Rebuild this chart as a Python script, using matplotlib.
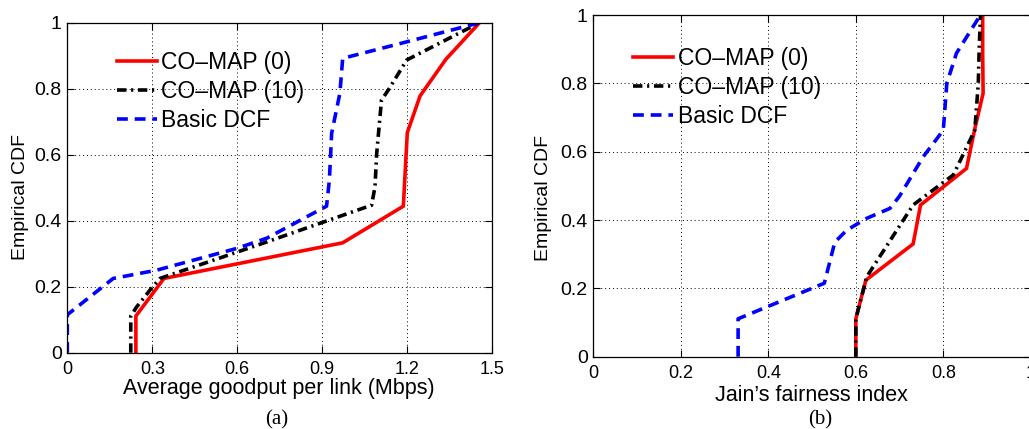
import matplotlib
matplotlib.use("Agg")
import matplotlib.pyplot as plt

# ---- data (a): average goodput per link ----
red_a_x = [0.242, 0.242, 0.341, 0.972, 1.186, 1.200, 1.245, 1.336, 1.455]
red_a_y = [0.0, 0.111, 0.225, 0.333, 0.444, 0.667, 0.778, 0.889, 1.0]

black_a_x = [0.224, 0.224, 0.245, 0.292, 0.327, 0.695, 1.074, 1.086, 1.092, 1.109, 1.133, 1.198, 1.455]
black_a_y = [0.0, 0.111, 0.139, 0.190, 0.225, 0.333, 0.447, 0.503, 0.604, 0.766, 0.796, 0.887, 1.0]

blue_a_x = [0.0, 0.0, 0.162, 0.315, 0.598, 0.704, 0.915, 0.925, 0.933, 0.962, 0.972, 1.198, 1.455]
blue_a_y = [0.0, 0.115, 0.225, 0.250, 0.316, 0.347, 0.444, 0.523, 0.665, 0.786, 0.892, 0.942, 1.0]

# ---- data (b): Jain's fairness index ----
red_b_x = [0.600, 0.600, 0.623, 0.731, 0.748, 0.853, 0.872, 0.891, 0.890, 0.890]
red_b_y = [0.0, 0.111, 0.224, 0.330, 0.444, 0.551, 0.667, 0.771, 0.889, 1.0]

black_b_x = [0.600, 0.600, 0.625, 0.675, 0.731, 0.823, 0.872, 0.880, 0.882, 0.885]
black_b_y = [0.0, 0.111, 0.234, 0.333, 0.444, 0.532, 0.663, 0.800, 0.900, 1.0]

blue_b_x = [0.331, 0.331, 0.528, 0.552, 0.579, 0.625, 0.678, 0.700, 0.754, 0.800, 0.808, 0.830, 0.880]
blue_b_y = [0.0, 0.111, 0.215, 0.335, 0.370, 0.405, 0.434, 0.470, 0.585, 0.663, 0.800, 0.888, 0.99]

labels = ["CO\u2013MAP (0)", "CO\u2013MAP (10)", "Basic DCF"]

xticks_a = [0, 0.3, 0.6, 0.9, 1.2, 1.5]
xticklabels_a = ["0", "0.3", "0.6", "0.9", "1.2", "1.5"]
xticks_b = [0, 0.2, 0.4, 0.6, 0.8, 1.0]
xticklabels_b = ["0", "0.2", "0.4", "0.6", "0.8", "1"]
yticks = [0, 0.2, 0.4, 0.6, 0.8, 1.0]
yticklabels = ["0", "0.2", "0.4", "0.6", "0.8", "1"]

plt.rcParams['font.family'] = ['Liberation Sans', 'DejaVu Sans']

W, H = 1029, 429
fig = plt.figure(figsize=(W / 100, H / 100), dpi=100)

def px_axes(l, r, t, b):
    return fig.add_axes([l / W, (H - b) / H, (r - l) / W, (b - t) / H])

ax_a = px_axes(67.3, 492.3, 22.7, 352.7)
ax_b = px_axes(593.3, 1030.8, 15.0, 356.7)

LW = 2.6

def draw(ax, rx, ry, kx, ky, bx, by):
    ax.plot(rx, ry, color='#ff0000', lw=LW, solid_joinstyle='miter', label=labels[0])
    ax.plot(kx, ky, color='black', lw=LW, dashes=(2.6, 1.3, 0.6, 1.3), label=labels[1])
    ax.plot(bx, by, color='#0000ff', lw=LW, dashes=(3.0, 1.9), label=labels[2])

draw(ax_a, red_a_x, red_a_y, black_a_x, black_a_y, blue_a_x, blue_a_y)
draw(ax_b, red_b_x, red_b_y, black_b_x, black_b_y, blue_b_x, blue_b_y)

LEG_FS = 16.5

def style(ax, xlim, xt, xtl, xlabel, xlab_pos, ylab_pos, leg_pos):
    ax.set_xlim(*xlim)
    ax.set_ylim(0, 1)
    ax.set_xticks(xt)
    ax.set_xticklabels(xtl, fontsize=13)
    ax.set_yticks(yticks)
    ax.set_yticklabels(yticklabels, fontsize=14)
    ax.tick_params(direction='in', length=5, width=0.8, top=True, right=True, colors='black')
    ax.tick_params(axis='x', pad=6)
    ax.tick_params(axis='y', pad=4)
    ax.grid(True, linestyle=(0, (1, 3)), color='black', lw=0.7)
    for s in ax.spines.values():
        s.set_linewidth(0.9)
        s.set_color('black')
    ax.set_xlabel(xlabel, fontsize=15.5)
    ax.xaxis.label.set_va('center')
    ax.xaxis.set_label_coords(*xlab_pos)
    ax.set_ylabel("Empirical CDF", fontsize=14)
    ax.yaxis.label.set_va('center')
    ax.yaxis.set_label_coords(*ylab_pos)
    hl = 40.0 / (LEG_FS * 100 / 72)
    ax.legend(loc='upper left', bbox_to_anchor=leg_pos, frameon=False, fontsize=LEG_FS,
              borderpad=0, borderaxespad=0, handlelength=hl, handletextpad=0.2,
              labelspacing=0.25)

style(ax_a, (0, 1.5), xticks_a, xticklabels_a, "Average goodput per link (Mbps)",
      (0.497, -0.108), (-0.11, 0.473), (0.116, 0.914))
style(ax_b, (0, 1.0), xticks_b, xticklabels_b, "Jain\u2019s fairness index",
      (0.4976, -0.114), (-0.114, 0.464), (0.091, 0.906))

fig.text(277 / W, 1 - 420 / H, "(a)", ha='center', va='center', fontsize=15,
         family=['Liberation Serif', 'DejaVu Serif'])
fig.text(820 / W, 1 - 420 / H, "(b)", ha='center', va='center', fontsize=15,
         family=['Liberation Serif', 'DejaVu Serif'])

fig.savefig("out.png", dpi=100)
